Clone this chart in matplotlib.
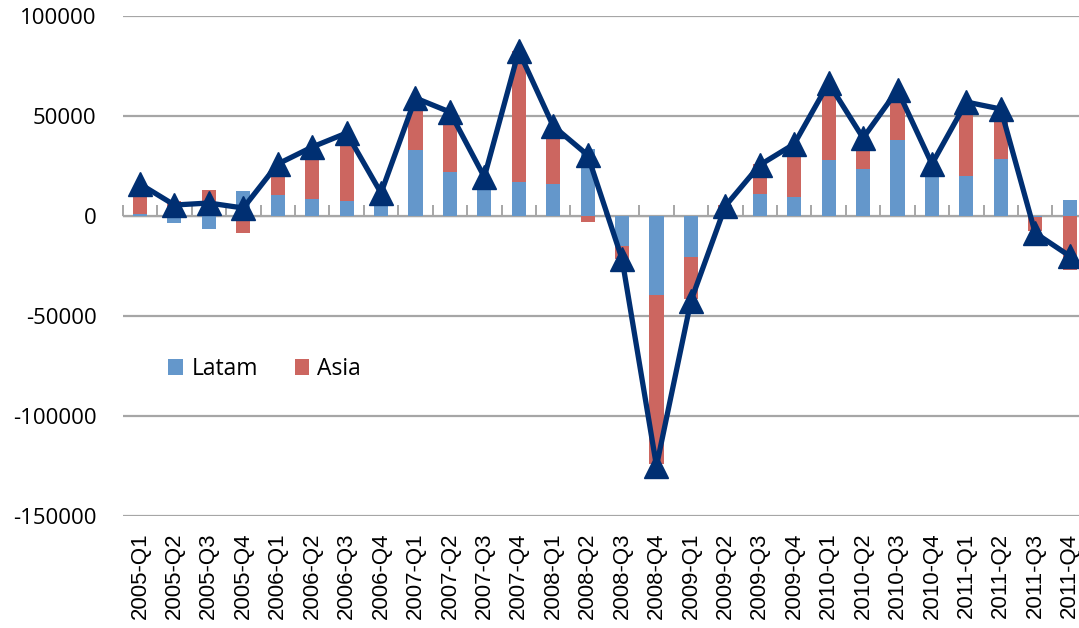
"""
Quarterly flows by region: stacked Latam / Asia bars with the total as a line.
"""
import numpy as np
import matplotlib.pyplot as plt

quarters = [f"{y}-Q{q}" for y in range(2005, 2012) for q in range(1, 5)]

latam = [1000, -3500, -6500, 12500, 10500, 8500, 7500, 8500,
         33000, 22000, 15000, 17000, 16000, 33500, -15000, -39500,
         -20500, 1000, 11000, 9500, 28000, 23500, 38000, 23000,
         20000, 28500, -500, 8000]
asia = [10500, 7500, 13000, -8500, 11500, 21500, 30000, 2000,
        22500, 26500, 2500, 65500, 26500, -3000, -6500, -84500,
        -21000, 4500, 15000, 25000, 35500, 14000, 21000, 1500,
        34500, 21500, -7000, -27000]
total = [16000, 5500, 6500, 4000, 26000, 34500, 41500, 11500,
         59000, 52000, 19500, 82500, 45000, 30500, -21500, -125000,
         -42500, 5000, 25500, 36000, 66500, 39000, 63000, 26000,
         57000, 53500, -8500, -20000]

BLUE = '#6497CB'
RED = '#CC6660'
NAVY = '#002F72'
GRID = '#A6A6A6'

latam_a = np.array(latam)
asia_a = np.array(asia)
# Excel-style stacking: positives on positives, negatives on negatives
asia_bottom = np.where(np.sign(asia_a) == np.sign(latam_a), latam_a, 0)

fig = plt.figure(figsize=(10.79, 6.28), dpi=100)
ax = fig.add_axes([0.1138, 0.1783, 0.8935, 0.7962])

x = np.arange(len(quarters))
ax.bar(x, latam_a, width=0.41, color=BLUE, label='Latam', zorder=2)
ax.bar(x, asia_a, bottom=asia_bottom, width=0.41, color=RED, label='Asia', zorder=2)
ax.plot(x, total, color=NAVY, lw=3.8, marker='^', markersize=17,
        zorder=4, label='_nolegend_', clip_on=False)

ax.set_xlim(-0.5, len(quarters) - 0.5)
ax.set_ylim(-150000, 100000)
ax.set_yticks(np.arange(-150000, 100001, 50000))
ax.set_yticklabels([str(v) for v in range(-150000, 100001, 50000)],
                   fontsize=16, family='Open Sans')
ax.tick_params(axis='y', length=0, pad=19)
ax.yaxis.grid(True, color=GRID, lw=1.6, zorder=0)
ax.set_axisbelow(True)

ax.set_xticks(x)
ax.set_xticklabels(quarters, rotation=90, fontsize=16, family='Liberation Sans',
                   va='top', ha='center')
ax.tick_params(axis='x', length=0, pad=12)

for s in ['top', 'right', 'left', 'bottom']:
    ax.spines[s].set_visible(False)

# category axis drawn at zero with boundary ticks
zero_pos = 150000 / 250000
sec = ax.secondary_xaxis(zero_pos)
sec.set_xticks(np.arange(-0.5, len(quarters), 1.0))
sec.set_xticklabels([])
sec.tick_params(axis='x', direction='out', length=8, width=1.4, color=GRID)
sec.spines['bottom'].set_color(GRID)
sec.spines['bottom'].set_linewidth(1.6)

ax.legend(loc='center left', bbox_to_anchor=(0.026, 0.294), ncol=2, frameon=False,
          prop={'family': 'Open Sans', 'size': 16.5}, handlelength=0.65,
          handleheight=0.65, handletextpad=0.35, columnspacing=1.6)

plt.savefig('out.png', dpi=100)
